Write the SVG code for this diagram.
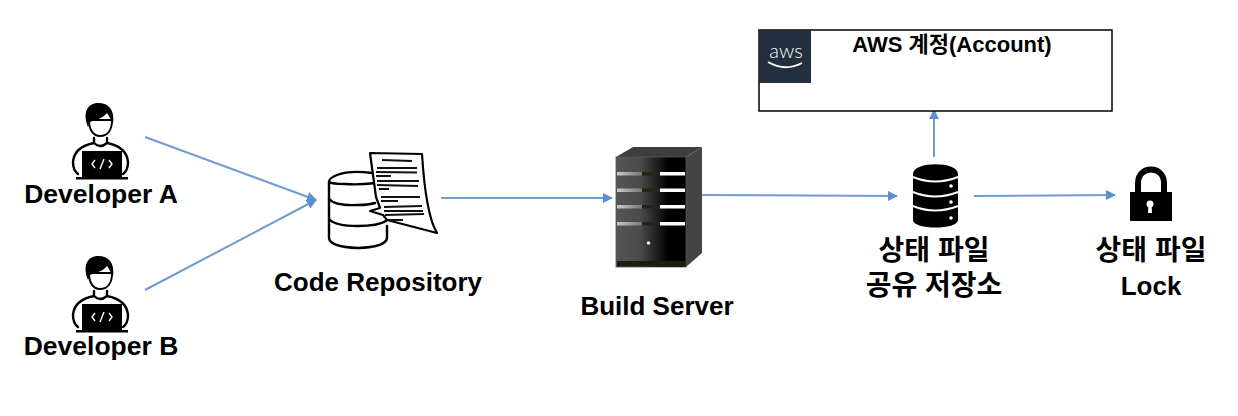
<svg xmlns="http://www.w3.org/2000/svg" width="1238" height="416" viewBox="0 0 1238 416">
<style>
.t{font-family:"Liberation Sans","Noto Sans CJK KR",sans-serif;font-weight:700;fill:#000;text-anchor:middle}
.c{fill:none;stroke:#6f9bd1;stroke-width:2}
.o{fill:none;stroke:#000;stroke-width:2.4;stroke-linecap:round;stroke-linejoin:round}
.l{stroke:#111;stroke-width:1.9;fill:none}
.w{fill:none;stroke:#fff;stroke-width:2}
</style>
<defs>
<marker id="a" markerUnits="userSpaceOnUse" markerWidth="10" markerHeight="12" refX="9" refY="5" orient="auto"><path d="M0 0L10 5L0 10Z" fill="#5b8fd0"/></marker>
<linearGradient id="f" x1="0" x2="1" y1="0" y2="0"><stop offset="0" stop-color="#555"/><stop offset=".35" stop-color="#4a4a4a"/><stop offset=".75" stop-color="#000"/></linearGradient>
<linearGradient id="s" x1="0" x2="1" y1="0" y2="0"><stop offset="0" stop-color="#c9c9c9"/><stop offset="1" stop-color="#777"/></linearGradient>
<g id="dev">
<path class="o" d="M94 138L94 143C84 145 74 150 73 162C73 167 74 171 78 174M107 138L107 143C117 145 127 150 128 162C128 167 127 171 123 174M94 143Q100 149 107 143"/>
<path d="M89 120C89 131 94 136 100 136C107 136 112 131 112 120Z" fill="#fff" stroke="#000" stroke-width="2"/>
<path d="M88 127C82 112 88 103 98 103C109 103 115 110 113 124C111 119 109 116 107 113C102 119 95 120 90 122Z" fill="#000"/>
<rect x="82" y="151" width="40" height="26" fill="#000"/>
<rect x="76" y="177" width="52" height="2.5" fill="#000"/>
<path d="M95 160L92 164L95 168M109 160L112 164L109 168M104 159L100 169" fill="none" stroke="#fff" stroke-width="1.4"/>
</g>
</defs>
<g id="connectors">
<path class="c" d="M145 137L316 200" marker-end="url(#a)"/>
<path class="c" d="M145 290L316 200" marker-end="url(#a)"/>
<path class="c" d="M441 198L612 198" marker-end="url(#a)"/>
<path class="c" d="M686 195L897 196" marker-end="url(#a)"/>
<path class="c" d="M974 196L1115 195" marker-end="url(#a)"/>
<path class="c" d="M934 157L934 110" marker-end="url(#a)"/>
</g>
<g id="developer-a"><use href="#dev"/><text class="t" x="101" y="203" font-size="26.5">Developer A</text></g>
<g id="developer-b"><use href="#dev" y="153"/><text class="t" x="101" y="355" font-size="26.5">Developer B</text></g>
<g id="code-repository">
<path class="o" d="M372 173Q350 170 337 175Q329 178 329 182L329 238Q330 247 358 248Q386 247 387 238L387 226"/>
<path class="o" d="M329 182Q332 184 345 184Q358 185 376 183M329 199Q335 206 358 205Q368 205 375 203M329 219Q335 226 358 226Q378 226 386 221"/>
<path d="M370 153L422 154C423 170 426 215 437 233L387 220L383 215L370 211L380 208L376 197Z" fill="#fff" stroke="#000" stroke-width="2.2" stroke-linejoin="round"/>
<g class="l"><path d="M382 160L412 161M377 168L417 168M376 172L417 172.500M376 176L391 176M377 181L419 181M377 185L418 186M379 189L389 189M381 197L420 197M381 201L398 201M384 207L422 206M384 211L423 211M385 215L424 214M388 220L403 220"/></g>
</g>
<g id="build-server">
<path d="M616 157L633 147L702 147L686 157Z" fill="#3e3e3e"/>
<path d="M686 157L702 147L702 253L686 267Z" fill="#444"/>
<rect x="616" y="157" width="70" height="110" fill="url(#f)" stroke="#555" stroke-width=".8"/>
<g id="bays"><rect x="617" y="172" width="25" height="3.500" fill="url(#s)"/><rect x="642" y="172" width="18" height="3.500" fill="#262618"/><rect x="660" y="172" width="25" height="3.500" fill="#fff"/>
<rect x="617" y="188.500" width="25" height="3.500" fill="url(#s)"/><rect x="642" y="188.500" width="18" height="3.500" fill="#262618"/><rect x="660" y="188.500" width="25" height="3.500" fill="#fff"/>
<rect x="617" y="205" width="25" height="3.500" fill="url(#s)"/><rect x="642" y="205" width="18" height="3.500" fill="#262618"/><rect x="660" y="205" width="25" height="3.500" fill="#fff"/>
<rect x="617" y="222" width="25" height="3.500" fill="url(#s)"/><rect x="642" y="222" width="18" height="3.500" fill="#262618"/><rect x="660" y="222" width="25" height="3.500" fill="#fff"/></g>
<circle cx="648.500" cy="243" r="1.800" fill="#eee"/>
<rect x="617" y="261" width="68" height="5.500" fill="#1c1c14"/>
</g>
<g id="aws-account">
<rect x="759" y="30" width="353" height="81" fill="#fff" stroke="#000" stroke-width="1.500"/>
<rect x="759" y="30" width="52" height="53" fill="#232f3e"/>
<text x="786" y="58" font-size="20" font-weight="300" fill="#fff" text-anchor="middle" font-family="Lato,'Liberation Sans',sans-serif">aws</text>
<path d="M768 62Q785 72 802 63" fill="none" stroke="#fff" stroke-width="1.800"/>
<text class="t" x="952" y="52" font-size="20" style="font-size:22px">AWS 계정(Account)</text>
</g>
<g id="state-store">
<path d="M913 174C913 161 958 161 958 174L958 220C958 230 913 230 913 220Z" fill="#000"/>
<path class="w" d="M913 177Q935 186 958 177M913 192Q935 201 958 192M913 206Q935 215 958 206"/>
<circle cx="951" cy="186" r="1.800" fill="#fff"/><circle cx="951" cy="202" r="1.800" fill="#fff"/><circle cx="951" cy="218" r="1.800" fill="#fff"/>
<text class="t" x="934" y="260" font-size="28">상태 파일</text>
<text class="t" x="934" y="295" font-size="28">공유 저장소</text>
</g>
<g id="state-lock">
<path d="M1138 193L1138 183C1138 165 1164 165 1164 183L1164 193" fill="none" stroke="#000" stroke-width="6"/>
<rect x="1130" y="192" width="42" height="29" fill="#000"/>
<circle cx="1150" cy="204" r="3.500" fill="#fff"/><path d="M1148.500 205L1151.500 205L1152 213L1148 213Z" fill="#fff"/>
<text class="t" x="1151" y="260" font-size="28">상태 파일</text>
<text class="t" x="1151" y="295" font-size="26">Lock</text>
</g>
<text class="t" id="label-code-repository" x="378" y="291" font-size="26">Code Repository</text>
<text class="t" id="label-build-server" x="657" y="315" font-size="26">Build Server</text>
</svg>
